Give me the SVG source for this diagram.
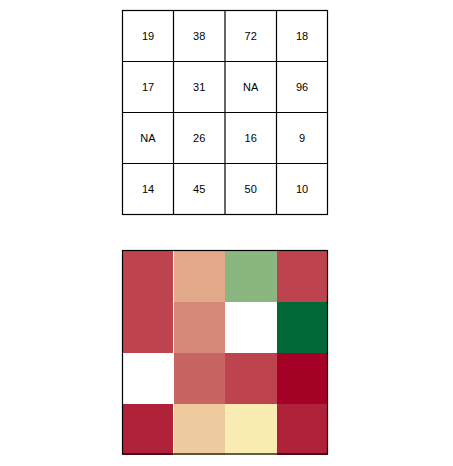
<svg xmlns="http://www.w3.org/2000/svg" width="453" height="466" viewBox="0 0 453 466">
<style>
.t{font-family:"Liberation Sans",Arial,sans-serif;font-size:11px;fill:#000;text-anchor:middle}
.g{fill:none;stroke:#000;stroke-width:1.2}
.c{shape-rendering:crispEdges}
</style>
<rect width="453" height="466" fill="#fff"/>
<g id="table">
<rect class="g" x="122.5" y="10.5" width="205" height="204"/>
<path class="g" d="M173.5 10.5V214.5M225 10.5V214.5M276.5 10.5V214.5M122.5 61.5H327.5M122.5 112.5H327.5M122.5 163.5H327.5"/>
<g id="r1">
<text class="t" x="148" y="40">19</text><text class="t" x="199.2" y="40">38</text><text class="t" x="250.7" y="40">72</text><text class="t" x="302" y="40">18</text>
</g>
<g id="r2">
<text class="t" x="148" y="91">17</text><text class="t" x="199.2" y="91">31</text><text class="t" x="250.7" y="91">NA</text><text class="t" x="302" y="91">96</text>
</g>
<g id="r3">
<text class="t" x="148" y="142">NA</text><text class="t" x="199.2" y="142">26</text><text class="t" x="250.7" y="142">16</text><text class="t" x="302" y="142">9</text>
</g>
<g id="r4">
<text class="t" x="148" y="193">14</text><text class="t" x="199.2" y="193">45</text><text class="t" x="250.7" y="193">50</text><text class="t" x="302" y="193">10</text>
</g>
</g>
<g id="heatmap">
<g class="c">
<rect x="122" y="250" width="52" height="52" fill="#BD434E"/>
<rect x="174" y="250" width="51" height="52" fill="#E2AA8A"/>
<rect x="225" y="250" width="52" height="52" fill="#8AB780"/>
<rect x="277" y="250" width="51" height="52" fill="#BD434E"/>
<rect x="122" y="302" width="52" height="51" fill="#BD434E"/>
<rect x="174" y="302" width="51" height="51" fill="#D6887A"/>
<rect x="225" y="302" width="52" height="51" fill="#FFFFFF"/>
<rect x="277" y="302" width="51" height="51" fill="#006837"/>
<rect x="122" y="353" width="52" height="51" fill="#FFFFFF"/>
<rect x="174" y="353" width="51" height="51" fill="#C86461"/>
<rect x="225" y="353" width="52" height="51" fill="#BD434E"/>
<rect x="277" y="353" width="51" height="51" fill="#A50026"/>
<rect x="122" y="404" width="52" height="51" fill="#B0213A"/>
<rect x="174" y="404" width="51" height="51" fill="#EDCB9E"/>
<rect x="225" y="404" width="52" height="51" fill="#F8ECB2"/>
<rect x="277" y="404" width="51" height="51" fill="#B0213A"/>
<rect x="173" y="250" width="1" height="205" fill="#FFFFFF"/>
</g>
<rect class="g" x="122.5" y="250.5" width="205" height="203.5"/>
</g>
</svg>
